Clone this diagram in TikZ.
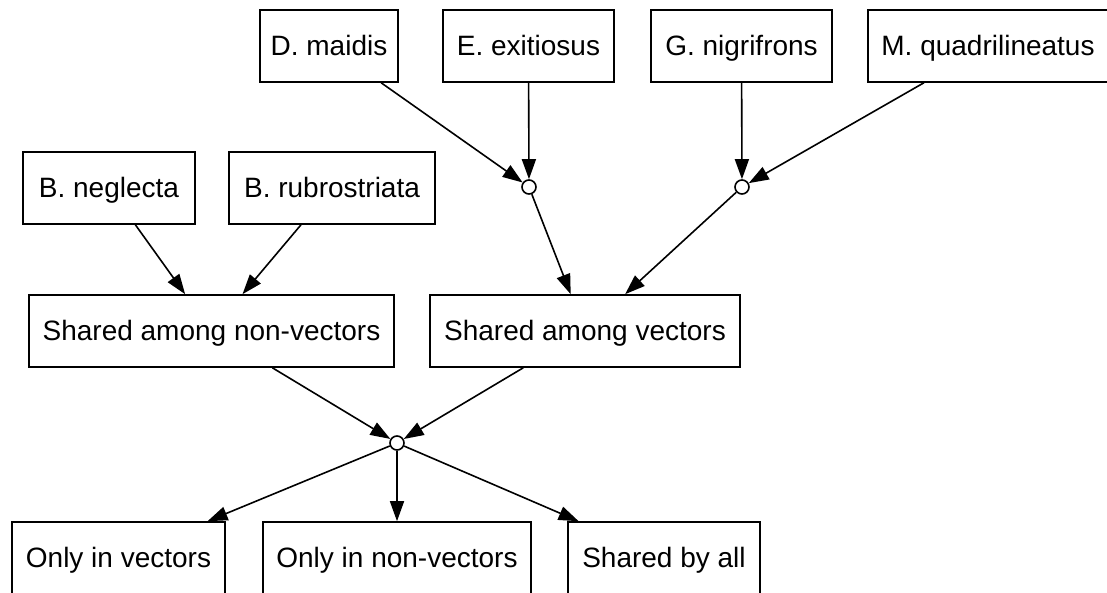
\documentclass[tikz,border=0pt]{standalone}
\usepackage{fontspec}
\setmainfont{Liberation Sans}
\usetikzlibrary{arrows.meta}
\begin{document}
\begin{tikzpicture}[x=0.5pt,y=-0.5pt,
 box/.style={draw, line width=0.8pt, rectangle, minimum height=36pt, inner sep=0pt, text height=12.5pt, text depth=3pt, font=\fontsize{14}{16}\selectfont},
 junction/.style={draw, circle, fill=white, minimum size=7pt, inner sep=0pt, line width=0.8pt},
 link/.style={line width=0.8pt, -{Triangle[length=10pt,width=7pt]}}]
\useasboundingbox (0,0) rectangle (1107,593);
\clip (0,0) rectangle (1107,593);
% top row
\node[box, minimum width=69pt]  (dm) at (329,46)   {D. maidis};
\node[box, minimum width=85.5pt] (ee) at (528.5,46) {E. exitiosus};
\node[box, minimum width=90.5pt] (gn) at (741.5,46) {G. nigrifrons};
\node[box, minimum width=120pt] (mq) at (988,46)   {M. quadrilineatus};
% second row
\node[box, minimum width=86pt]  (bn) at (109,188)  {B. neglecta};
\node[box, minimum width=103pt] (br) at (332,188)  {B. rubrostriata};
% junctions
\node[junction] (j1) at (529,187) {};
\node[junction] (j2) at (742,187) {};
% middle
\node[box, minimum width=182.5pt] (snv) at (211.5,331) {Shared among non-vectors};
\node[box, minimum width=155pt]   (sv)  at (585,331)   {Shared among vectors};
\node[junction] (j3) at (397,443) {};
% bottom
\node[box, minimum width=106.5pt] (oiv)  at (118.5,558) {Only in vectors};
\node[box, minimum width=134pt]   (oinv) at (397,558)   {Only in non-vectors};
\node[box, minimum width=96pt]    (sba)  at (664,558)   {Shared by all};
% edges
\draw[link] (dm) -- (j1);
\draw[link] (ee) -- (j1);
\draw[link] (gn) -- (j2);
\draw[link] (mq) -- (j2);
\draw[link] (j1) -- (sv);
\draw[link] (j2) -- (sv);
\draw[link] (bn) -- (snv);
\draw[link] (br) -- (snv);
\draw[link] (snv) -- (j3);
\draw[link] (sv) -- (j3);
\draw[link] (j3) -- (oiv);
\draw[link] (j3) -- (oinv);
\draw[link] (j3) -- (sba);
\end{tikzpicture}
\end{document}
